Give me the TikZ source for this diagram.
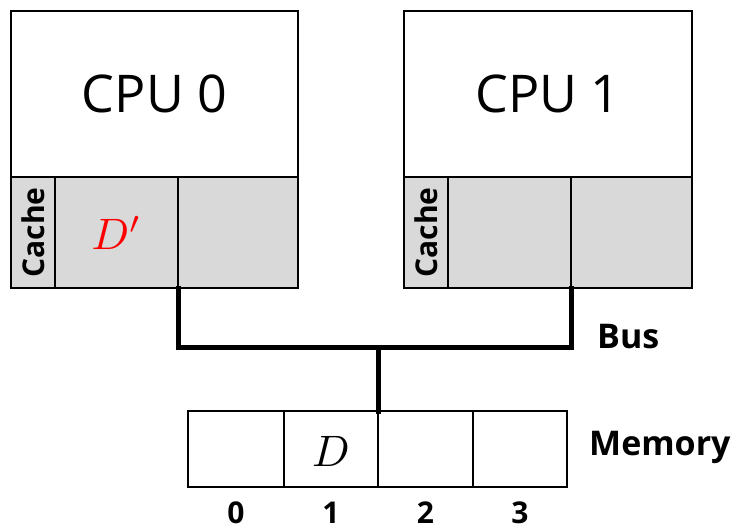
\documentclass[tikz,border=0pt]{standalone}
\usepackage{fontspec}
\setmainfont{Open Sans}
\definecolor{cachegray}{HTML}{D9D9D9}
\definecolor{dred}{HTML}{FF0000}
\begin{document}
\begin{tikzpicture}[x=1pt,y=-1pt,
  box/.style={draw=black, line width=1.6pt, inner sep=0pt, outer sep=0pt, anchor=north west},
  sz/.style 2 args={minimum width=#1pt, minimum height=#2pt},
  cpubox/.style={box, fill=white, font=\fontsize{52}{60}\selectfont},
  cachecell/.style={box, fill=cachegray},
  memcell/.style={box, fill=white, line width=1.8pt},
  cachetext/.style={rotate=90, font=\bfseries\fontsize{30}{34}\selectfont, inner sep=0pt},
  lbl/.style={font=\bfseries\fontsize{34}{38}\selectfont, inner sep=0pt, anchor=west},
  idx/.style={font=\bfseries\fontsize{30}{36}\selectfont, inner sep=0pt},
  mathtext/.style={inner sep=0pt},
  bus/.style={line width=5pt, line join=miter, line cap=rect}]
\useasboundingbox (0,0) rectangle (740,530);
% CPU 0
\node[cpubox, sz={287}{166}] (cpu0) at (11,11) {\raisebox{-3pt}{CPU 0}};
\node[cachecell, sz={44}{111}] (c0l) at (11,177) {};
\node[cachecell, sz={123}{111}] (c0a) at (55,177) {};
\node[cachecell, sz={120}{111}] (c0b) at (178,177) {};
\node[cachetext] (c0t) at (c0l.center) {Cache};
\node[mathtext, text=dred] (dp) at (c0a.center) {\scalebox{4.4}{$D'$}};
% CPU 1
\node[cpubox, sz={288}{166}] (cpu1) at (404,11) {\raisebox{-3pt}{CPU 1}};
\node[cachecell, sz={44}{111}] (c1l) at (404,177) {};
\node[cachecell, sz={123}{111}] (c1a) at (448,177) {};
\node[cachecell, sz={121}{111}] (c1b) at (571,177) {};
\node[cachetext] (c1t) at (c1l.center) {Cache};
% Memory
\node[memcell, sz={96}{76}] (m0) at (188,411) {};
\node[memcell, sz={94}{76}] (m1) at (284,411) {};
\node[memcell, sz={95}{76}] (m2) at (378,411) {};
\node[memcell, sz={94}{76}] (m3) at (473,411) {};
\node[mathtext] (dm) at ([yshift=-2pt]m1.center) {\scalebox{4.4}{$D$}};
\foreach \i in {0,1,2,3} {
  \node[idx] (n\i) at ([yshift=-26pt]m\i.south) {\i};
}
% Bus
\coordinate (bj) at (378,347);
\draw[bus] (c0b.south west) |- (bj) -| (c1b.south west);
\draw[bus] (bj) -- (m2.north west);
% Labels
\node[lbl] (buslbl) at (597,337) {Bus};
\node[lbl] (memlbl) at (589,447) {Memory};
\end{tikzpicture}
\end{document}
